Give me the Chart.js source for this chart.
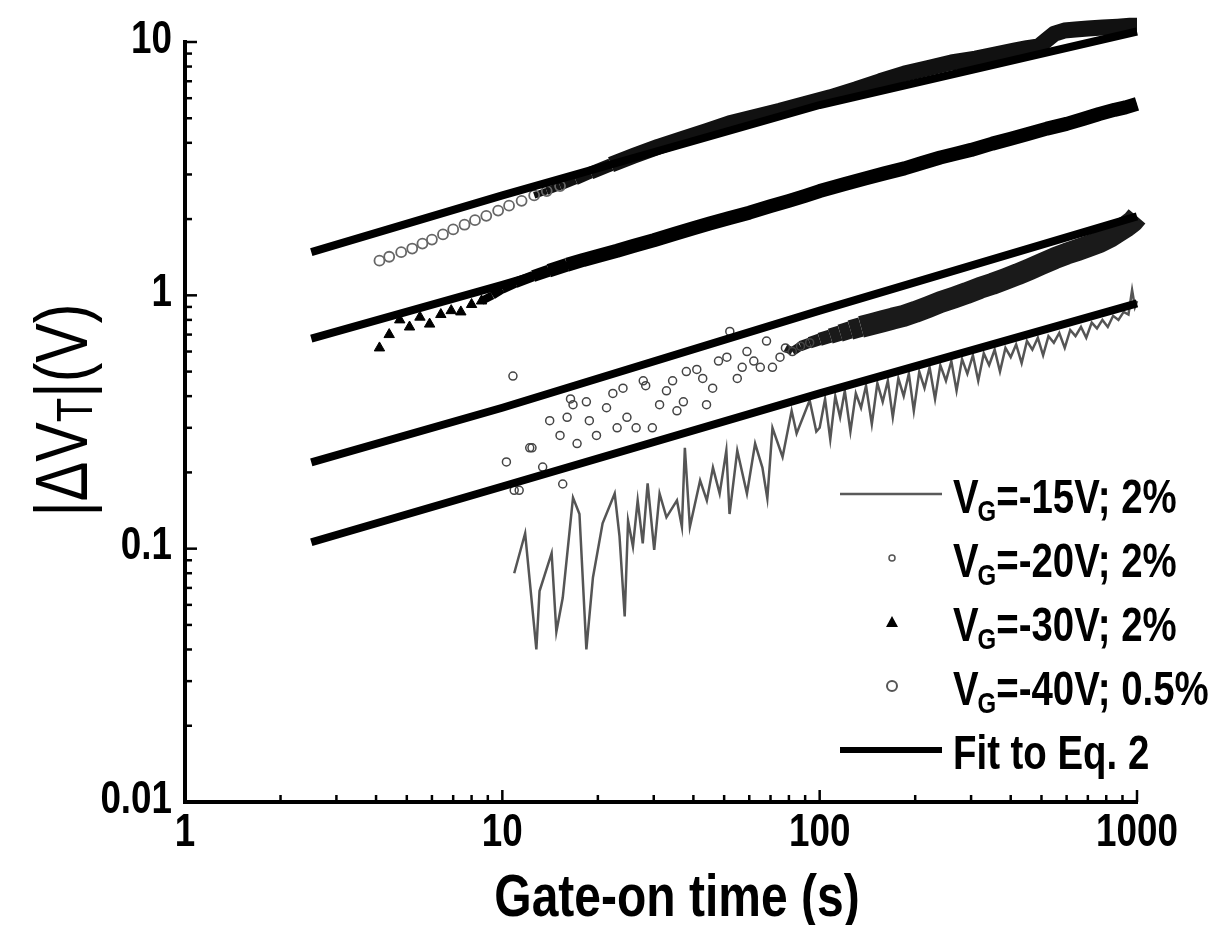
<!DOCTYPE html>
<html>
<head>
<meta charset="utf-8">
<script src="https://cdn.jsdelivr.net/npm/chart.js@4.4.1/dist/chart.umd.min.js"></script>
<style>
  html, body { margin: 0; padding: 0; background: #fff; }
  #wrap { width: 1215px; height: 925px; }
</style>
</head>
<body>
<div id="wrap"><canvas id="chart"></canvas></div>
<script>
// axis ticks (log-log)
const xTicks = [1, 2, 3, 4, 5, 6, 7, 8, 9, 10, 20, 30, 40, 50, 60, 70, 80, 90, 100, 200, 300, 400, 500, 600, 700, 800, 900, 1000];
const xMajor = [1, 10, 100, 1000];
const yTicks = [0.01, 0.02, 0.03, 0.04, 0.05, 0.06, 0.07, 0.08, 0.09, 0.1, 0.2, 0.3, 0.4, 0.5, 0.6, 0.7, 0.8, 0.9, 1, 2, 3, 4, 5, 6, 7, 8, 9, 10];
const yMajor = [0.01, 0.1, 1, 10];

// VG = -15V; 2%  (thin grey line)
const t15 = [10.9, 11.8, 12.8, 13.1, 14.3, 14.8, 15.5, 16.7, 17.5, 18.4, 19.3, 20.7, 22.6, 23.4, 24.3, 24.9, 25.8, 26.7, 27.7, 28.7, 30.1, 31.3, 32.9, 35.5, 36.8, 37.6, 39.0, 42.0, 44.1, 46.1, 48.4, 50.8, 52.0, 55, 59, 62.6, 66, 68.4, 71, 76.4, 81.6, 84.6, 93, 97.6,
  100, 104, 108, 112, 116, 120, 125, 130, 135, 140, 146, 152, 158, 164, 170, 177, 184, 191, 198, 206, 214, 222, 231, 240, 250, 260, 270, 281, 292, 304, 316, 329, 342, 356, 370, 385, 400, 416, 433, 450, 468, 487, 506, 526, 547, 569, 592, 616, 640, 666, 692, 720, 748, 778, 809, 841, 874, 908, 940, 965, 985, 1000];
const v15 = [0.080, 0.115, 0.040, 0.068, 0.096, 0.047, 0.064, 0.159, 0.137, 0.040, 0.077, 0.126, 0.165, 0.112, 0.054, 0.129, 0.102, 0.155, 0.105, 0.181, 0.099, 0.165, 0.133, 0.155, 0.122, 0.25, 0.122, 0.186, 0.155, 0.209, 0.165, 0.244, 0.137, 0.244, 0.165, 0.26, 0.209, 0.158, 0.30, 0.23, 0.35, 0.285, 0.385, 0.29,
  0.30, 0.39, 0.27, 0.40, 0.33, 0.42, 0.29, 0.41, 0.36, 0.44, 0.31, 0.45, 0.38, 0.46, 0.33, 0.47, 0.40, 0.49, 0.35, 0.50, 0.43, 0.52, 0.39, 0.53, 0.46, 0.55, 0.42, 0.56, 0.49, 0.58, 0.46, 0.59, 0.53, 0.61, 0.50, 0.62, 0.57, 0.64, 0.54, 0.66, 0.61, 0.68, 0.58, 0.69, 0.65, 0.71, 0.62, 0.73, 0.69, 0.75, 0.68, 0.78, 0.74, 0.80, 0.75, 0.83, 0.80, 0.86, 0.84, 1.05, 0.90, 0.95];

// VG = -20V; 2%  (small open circles, dense band after ~80 s)
const t20 = [10.3, 10.8, 10.9, 11.3, 12.2, 12.4, 13.4, 14.1, 15.2, 15.5, 16.0, 16.4, 16.7, 17.2, 18.4, 18.8, 19.8, 21.3, 22.3, 23.0, 24.0, 24.7, 26.4, 27.8, 28.3, 29.7, 31.3, 32.9, 34.4, 35.5, 37.2, 38.0, 41.0, 42.8, 44.0, 46.0, 48.0, 51.0, 52.1, 55.0, 57.0, 59.0, 62.0, 65.0, 68.0, 71.0, 75.0,
  78, 82, 87, 93, 100, 108, 116, 125, 135, 146, 158, 170, 184, 200, 220, 240, 265, 290, 320, 350, 385, 420, 460, 500, 550, 600, 650, 700, 760, 820, 880, 930, 970, 1000];
const v20 = [0.22, 0.48, 0.17, 0.17, 0.25, 0.25, 0.21, 0.32, 0.28, 0.18, 0.33, 0.39, 0.37, 0.26, 0.38, 0.32, 0.28, 0.36, 0.41, 0.30, 0.43, 0.33, 0.30, 0.46, 0.44, 0.30, 0.37, 0.42, 0.46, 0.35, 0.38, 0.50, 0.51, 0.47, 0.37, 0.43, 0.55, 0.57, 0.72, 0.47, 0.52, 0.60, 0.55, 0.52, 0.66, 0.52, 0.57,
  0.62, 0.60, 0.63, 0.65, 0.67, 0.69, 0.71, 0.73, 0.75, 0.77, 0.79, 0.81, 0.83, 0.86, 0.90, 0.94, 0.98, 1.02, 1.07, 1.11, 1.16, 1.21, 1.27, 1.33, 1.40, 1.46, 1.51, 1.56, 1.62, 1.70, 1.80, 1.88, 1.96, 2.05];

// VG = -30V; 2%  (filled triangles)
const t30 = [4.1, 4.4, 4.75, 5.1, 5.5, 5.9, 6.4, 6.9, 7.4, 8.0, 8.6, 9.3, 10, 11, 12.5, 14, 16, 18, 20, 23, 26, 30, 35, 40, 45, 52, 60, 70, 80, 90, 100, 120, 140, 160, 185, 210, 240, 270, 300, 350, 400, 450, 520, 600, 680, 760, 850, 920, 1000];
const v30 = [0.62, 0.70, 0.80, 0.75, 0.82, 0.77, 0.84, 0.87, 0.86, 0.92, 0.95, 1.00, 1.06, 1.12, 1.19, 1.25, 1.32, 1.38, 1.43, 1.50, 1.57, 1.65, 1.75, 1.84, 1.92, 2.02, 2.12, 2.25, 2.36, 2.47, 2.58, 2.75, 2.90, 3.03, 3.17, 3.33, 3.50, 3.63, 3.75, 3.97, 4.15, 4.32, 4.55, 4.75, 4.98, 5.20, 5.40, 5.52, 5.70];

// VG = -40V; 0.5%  (open circles)
const t40 = [4.1, 4.4, 4.8, 5.2, 5.6, 6.0, 6.5, 7.0, 7.6, 8.2, 8.9, 9.7, 10.5, 11.5, 12.6, 13.8, 15.2, 17, 19, 22, 26, 31, 37, 44, 52, 62, 75, 90, 108, 130, 155, 185, 220, 260, 310, 360, 410, 450, 490, 520, 550, 590, 640, 700, 780, 870, 950, 1000];
const v40 = [1.37, 1.42, 1.48, 1.53, 1.60, 1.66, 1.74, 1.82, 1.90, 1.98, 2.06, 2.16, 2.26, 2.36, 2.48, 2.58, 2.70, 2.86, 3.04, 3.28, 3.56, 3.86, 4.15, 4.45, 4.78, 5.05, 5.35, 5.70, 6.05, 6.50, 7.00, 7.50, 7.90, 8.30, 8.60, 8.95, 9.25, 9.45, 9.60, 10.2, 10.8, 11.1, 11.2, 11.3, 11.4, 11.5, 11.6, 11.6];

// Fit to Eq. 2 (one curve per bias)
const fitT = [2.5, 10, 100, 1000];
const fit15 = [0.106, 0.176, 0.41, 0.93];
const fit20 = [0.219, 0.36, 0.87, 2.05];
const fit30 = [0.675, 1.10, 2.58, 5.6];
const fit40 = [1.48, 2.48, 5.64, 11.0];

const legendText = ['=-15V; 2%', '=-20V; 2%', '=-30V; 2%', '=-40V; 0.5%', 'Fit to Eq. 2'];

const FAMILY = '"Liberation Sans", Arial, sans-serif';
const SQUEEZE = 0.8;   // the original lettering is condensed
const CLEAR = 'rgba(0,0,0,0)';

function pts(xs, ys) {
  return xs.map((x, i) => ({ x: x, y: ys[i] }));
}

function fitSet(ys) {
  return { data: pts(fitT, ys), borderColor: '#000', borderWidth: 8, pointRadius: 0, order: 0, clip: false, borderCapStyle: 'butt' };
}

// draws condensed text, returns its drawn width
function say(ctx, s, x, y, font, align) {
  ctx.save();
  ctx.font = font;
  ctx.textAlign = align || 'left';
  ctx.translate(x, y);
  ctx.scale(SQUEEZE, 1);
  ctx.fillText(s, 0, 0);
  const w = ctx.measureText(s).width * SQUEEZE;
  ctx.restore();
  return w;
}

function widthOf(ctx, s, font) {
  ctx.save(); ctx.font = font;
  const w = ctx.measureText(s).width * SQUEEZE;
  ctx.restore();
  return w;
}

// inward ticks, tick labels, axis titles and legend
const decor = {
  id: 'decor',
  afterDraw(chart) {
    const { ctx, chartArea: a, scales: { x, y } } = chart;
    ctx.save();
    ctx.strokeStyle = '#000';
    ctx.fillStyle = '#000';
    ctx.lineWidth = 2.5;
    const tickFont = 'bold 46px ' + FAMILY;
    ctx.textBaseline = 'middle';
    x.ticks.forEach(t => {
      const px = x.getPixelForValue(t.value);
      const major = xMajor.includes(t.value);
      ctx.beginPath(); ctx.moveTo(px, a.bottom); ctx.lineTo(px, a.bottom - (major ? 12 : 7)); ctx.stroke();
      if (major) say(ctx, String(t.value), px, a.bottom + 31, tickFont, 'center');
    });
    y.ticks.forEach(t => {
      const py = y.getPixelForValue(t.value);
      const major = yMajor.includes(t.value);
      ctx.beginPath(); ctx.moveTo(a.left, py); ctx.lineTo(a.left + (major ? 12 : 7), py); ctx.stroke();
      if (major) say(ctx, String(t.value), a.left - 13, py - 2, tickFont, 'right');
    });

    ctx.textBaseline = 'alphabetic';

    // x title
    say(ctx, 'Gate-on time (s)', 677, 916, 'bold 60px ' + FAMILY, 'center');

    // y title |ΔV_T|(V)
    ctx.save();
    ctx.translate(87, 410);
    ctx.rotate(-Math.PI / 2);
    const big = '74px ' + FAMILY, small = '50px ' + FAMILY;
    const w1 = widthOf(ctx, '|\u0394V', big), w2 = widthOf(ctx, 'T', small), w3 = widthOf(ctx, '|(V)', big);
    let cx = -(w1 + w2 + w3) / 2;
    cx += say(ctx, '|\u0394V', cx, 0, big);
    cx += say(ctx, 'T', cx, 5, small);
    say(ctx, '|(V)', cx, 0, big);
    ctx.restore();

    // legend
    const lx0 = 840, lx1 = 942, mx = 892, tx = 953;
    legendText.forEach((txt, i) => {
      const base = 513 + 64 * i;
      const my = base - 19;
      ctx.save();
      if (i === 0) {
        ctx.strokeStyle = '#5a5a5a'; ctx.lineWidth = 2.5;
        ctx.beginPath(); ctx.moveTo(lx0, my); ctx.lineTo(lx1, my); ctx.stroke();
      } else if (i === 1) {
        ctx.strokeStyle = '#555'; ctx.lineWidth = 1.5;
        ctx.beginPath(); ctx.arc(mx, my, 3, 0, Math.PI * 2); ctx.stroke();
      } else if (i === 2) {
        ctx.beginPath(); ctx.moveTo(mx, my - 6); ctx.lineTo(mx + 6, my + 5); ctx.lineTo(mx - 6, my + 5); ctx.closePath(); ctx.fill();
      } else if (i === 3) {
        ctx.strokeStyle = '#555'; ctx.lineWidth = 2;
        ctx.beginPath(); ctx.arc(mx, my, 5, 0, Math.PI * 2); ctx.stroke();
      } else {
        ctx.strokeStyle = '#000'; ctx.lineWidth = 6;
        ctx.beginPath(); ctx.moveTo(lx0, my); ctx.lineTo(lx1, my); ctx.stroke();
      }
      ctx.restore();
      let cx2 = tx;
      const lf = 'bold 48px ' + FAMILY;
      if (i < 4) {
        cx2 += say(ctx, 'V', cx2, base, lf);
        cx2 += say(ctx, 'G', cx2 - 1, base + 8, 'bold 30px ' + FAMILY) - 1;
      }
      say(ctx, txt, cx2, base, lf);
    });
    ctx.restore();
  }
};

new Chart(document.getElementById('chart'), {
  type: 'line',
  data: {
    datasets: [
      fitSet(fit40), fitSet(fit30), fitSet(fit20), fitSet(fit15),
      {
        data: pts(t40, v40), order: 2, clip: false, showLine: true, borderWidth: 16,
        borderCapStyle: 'butt', borderJoinStyle: 'round',
        segment: {
          borderColor: c => c.p0.parsed.x >= 12 ? '#111' : CLEAR,
          borderWidth: c => Math.min(16, 6 + (c.p0.parsed.x - 12))
        },
        pointStyle: 'circle', pointRadius: c => (c.raw && c.raw.x < 16) ? 5 : 0,
        pointBorderColor: '#666', pointBackgroundColor: CLEAR, pointBorderWidth: 1.8
      },
      {
        data: pts(t30, v30), order: 2, clip: false, showLine: true, borderWidth: 14,
        borderCapStyle: 'butt', borderJoinStyle: 'round',
        segment: {
          borderColor: c => c.p0.parsed.x >= 8.5 ? '#000' : CLEAR,
          borderWidth: c => Math.min(14, 8 + (c.p0.parsed.x - 8.5))
        },
        pointStyle: 'triangle', pointRadius: c => (c.raw && c.raw.x < 9) ? 6 : 0,
        pointBorderColor: '#000', pointBackgroundColor: '#000', pointBorderWidth: 1
      },
      {
        data: pts(t20, v20), order: 3, clip: false, showLine: true, borderWidth: 22,
        borderCapStyle: 'butt', borderJoinStyle: 'round',
        segment: {
          borderColor: c => c.p0.parsed.x >= 78 ? '#1a1a1a' : CLEAR,
          borderWidth: c => Math.min(22, 8 + (c.p0.parsed.x - 78) * 0.25)
        },
        pointStyle: 'circle', pointRadius: c => (c.raw && c.raw.x < 95) ? 4 : 0,
        pointBorderColor: '#444', pointBackgroundColor: CLEAR, pointBorderWidth: 1.5
      },
      {
        data: pts(t15, v15), order: 4, clip: false, borderColor: '#555', borderWidth: 2.5, pointRadius: 0
      }
    ]
  },
  options: {
    responsive: true,
    maintainAspectRatio: false,
    animation: false,
    events: [],
    layout: { padding: { left: 0, top: 42, right: 78, bottom: 0 } },
    plugins: { legend: { display: false }, tooltip: { enabled: false } },
    scales: {
      x: {
        type: 'logarithmic', min: 1, max: 1000,
        afterBuildTicks: s => { s.ticks = xTicks.map(v => ({ value: v })); },
        afterFit: s => { s.height = 123; },
        grid: { display: false },
        border: { display: true, color: '#000', width: 4 },
        ticks: { display: false }
      },
      y: {
        type: 'logarithmic', min: 0.01, max: 10,
        afterBuildTicks: s => { s.ticks = yTicks.map(v => ({ value: v })); },
        afterFit: s => { s.width = 185; },
        grid: { display: false },
        border: { display: true, color: '#000', width: 4 },
        ticks: { display: false }
      }
    }
  },
  plugins: [decor]
});
</script>
</body>
</html>
